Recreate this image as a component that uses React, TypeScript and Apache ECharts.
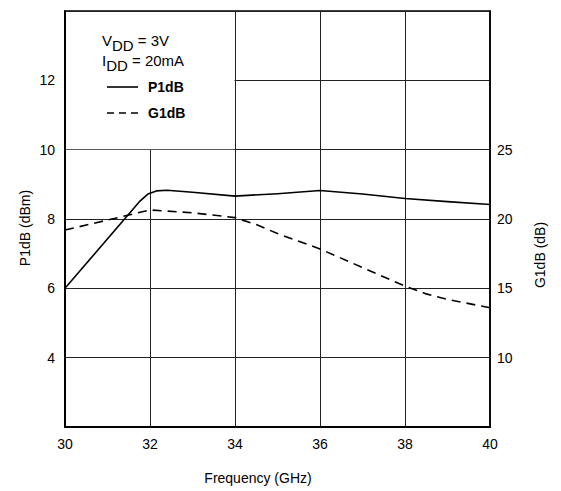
import React, { useEffect, useRef } from "react";
import * as echarts from "echarts";

const freqP = [30, 31.75, 31.95, 32.15, 32.4, 33, 34, 35, 36, 37, 38, 39, 40];
const p1db = [6.0, 8.5, 8.72, 8.81, 8.83, 8.77, 8.66, 8.73, 8.82, 8.72, 8.59, 8.5, 8.42];
const freqG = [30, 32, 33, 34, 34.5, 35, 36, 37, 38, 38.5, 39, 40];
const g1db = [19.2, 20.65, 20.45, 20.1, 19.6, 18.95, 17.84, 16.5, 15.16, 14.6, 14.2, 13.6];
const leftTicks = [4, 6, 8, 10, 12];
const rightTicks = [10, 15, 20, 25];

const FONT = "'Liberation Sans', Arial, Helvetica, sans-serif";

export default function App() {
  const ref = useRef<HTMLDivElement>(null);
  useEffect(() => {
    if (!ref.current) return;
    const chart = echarts.init(ref.current, null, { renderer: "svg" });
    const txt = { color: "#000", fontFamily: FONT, fontSize: 14 };
    chart.setOption({
      animation: false,
      backgroundColor: "#fff",
      grid: {
        left: 65, right: 71, top: 11, bottom: 64,
        show: true, borderColor: "#000", borderWidth: 1.5,
      },
      xAxis: {
        type: "value", min: 30, max: 40, interval: 2,
        axisLine: { show: true, lineStyle: { color: "#000", width: 2 } },
        axisTick: { show: false },
        axisLabel: { ...txt, margin: 10 },
        splitLine: { show: true, lineStyle: { color: "#222", width: 1 } },
      },
      yAxis: [
        {
          type: "value", min: 2, max: 14, interval: 2, position: "left",
          axisLine: { show: true, lineStyle: { color: "#000", width: 2 } },
          axisTick: { show: false },
          axisLabel: {
            ...txt, margin: 10,
            formatter: (v: number) => (leftTicks.includes(v) ? String(v) : ""),
          },
          splitLine: { show: true, lineStyle: { color: "#222", width: 1 } },
        },
        {
          type: "value", min: 5, max: 35, interval: 5, position: "right",
          axisLine: { show: true, lineStyle: { color: "#000", width: 1.5 } },
          axisTick: { show: false },
          axisLabel: {
            ...txt, margin: 7,
            formatter: (v: number) => (rightTicks.includes(v) ? String(v) : ""),
          },
          splitLine: { show: false },
        },
      ],
      series: [
        {
          name: "P1dB", type: "line", yAxisIndex: 0,
          data: freqP.map((f, i) => [f, p1db[i]]),
          smooth: false, showSymbol: false,
          lineStyle: { color: "#000", width: 1.6, join: "round" },
          z: 5,
        },
        {
          name: "G1dB", type: "line", yAxisIndex: 1,
          data: freqG.map((f, i) => [f, g1db[i]]),
          smooth: false, showSymbol: false,
          lineStyle: { color: "#000", width: 1.6, type: [9, 6], join: "round" },
          z: 5,
        },
      ],
    });
    const tl = chart.convertToPixel({ xAxisIndex: 0, yAxisIndex: 0 }, [30, 14]) as number[];
    const br = chart.convertToPixel({ xAxisIndex: 0, yAxisIndex: 0 }, [34, 10]) as number[];
    const rich = {
      n: { fontFamily: FONT, fontSize: 15, color: "#000" },
      s: { fontFamily: FONT, fontSize: 15, color: "#000", padding: [10, 0, 0, 0] },
    };
    chart.setOption({
      graphic: [
        {
          type: "rect", z: 50,
          shape: { x: tl[0] + 1, y: tl[1] + 1, width: br[0] - tl[0] - 1.5, height: br[1] - tl[1] - 1.5 },
          style: { fill: "#fff" },
        },
        {
          type: "text", z: 60, left: 102, top: 33,
          style: { text: "{n|V}{s|DD}{n| = 3V}", rich, fill: "#000" },
        },
        {
          type: "text", z: 60, left: 102, top: 53,
          style: { text: "{n|I}{s|DD}{n| = 20mA}", rich, fill: "#000" },
        },
        {
          type: "line", z: 60,
          shape: { x1: 107, y1: 87, x2: 138, y2: 87 },
          style: { stroke: "#000", lineWidth: 1.6 },
        },
        {
          type: "text", z: 60, left: 148, top: 80,
          style: { text: "P1dB", font: `bold 14px ${FONT}`, fill: "#000" },
        },
        {
          type: "line", z: 60,
          shape: { x1: 107, y1: 113, x2: 138, y2: 113 },
          style: { stroke: "#000", lineWidth: 1.6, lineDash: [7, 5] },
        },
        {
          type: "text", z: 60, left: 148, top: 106,
          style: { text: "G1dB", font: `bold 14px ${FONT}`, fill: "#000" },
        },
        {
          type: "text", z: 60, x: 258, y: 478,
          style: { text: "Frequency (GHz)", font: `14px ${FONT}`, fill: "#000", align: "center", verticalAlign: "middle" },
        },
        {
          type: "text", z: 60, x: 25, y: 228, rotation: Math.PI / 2,
          style: { text: "P1dB (dBm)", font: `14px ${FONT}`, fill: "#000", align: "center", verticalAlign: "middle" },
        },
        {
          type: "text", z: 60, x: 540, y: 255, rotation: Math.PI / 2,
          style: { text: "G1dB (dB)", font: `14px ${FONT}`, fill: "#000", align: "center", verticalAlign: "middle" },
        },
      ],
    });
    return () => chart.dispose();
  }, []);
  return (
    <div
      ref={ref}
      style={{ position: "absolute", left: 0, top: 0, width: 561, height: 491 }}
    />
  );
}
